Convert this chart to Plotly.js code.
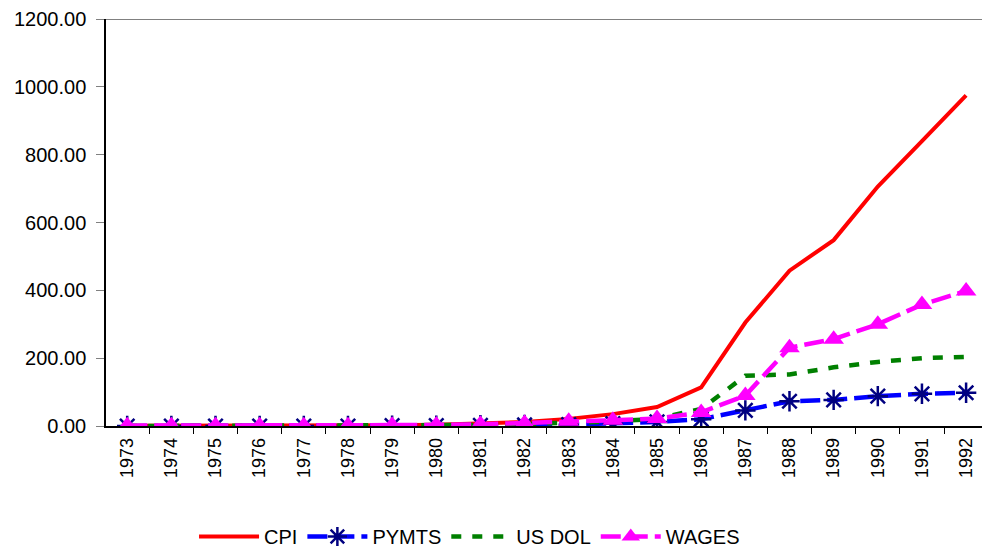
<!DOCTYPE html>
<html><head><meta charset="utf-8">
<script src="https://cdn.plot.ly/plotly-3.0.1.min.js"></script>
<style>html,body{margin:0;padding:0;background:#fff;overflow:hidden}</style>
</head><body><div id="chart" style="width:982px;height:556px"></div>
<script>
var years = ["1973","1974","1975","1976","1977","1978","1979","1980","1981","1982","1983","1984","1985","1986","1987","1988","1989","1990","1991","1992"];
var cpi   = [1,1,1,1,1,2,2,4,7,12,21,35,56,114,305,458,548,706,840,975];
var pymts = [0,0,0,0,0,0,1,1,2,3,4,7,12,20,46,73,77,88,95,98];
var usdol = [0,0,0,0,0,0,1,2,3,6,9,13,22,50,148,152,173,189,200,204];
var wages = [1,1,1,1,1,1,2,3,5,8,14,17,22,40,90,231,256,300,358,398];

var traces = [
  {x: years, y: cpi, name: "CPI", type: "scatter", mode: "lines",
   line: {color: "#FF0000", width: 4}},
  {x: years, y: pymts, name: "PYMTS", type: "scatter", mode: "lines+markers",
   line: {color: "#0000FF", width: 4.5, dash: "20px,7px"},
   marker: {symbol: "asterisk-open", size: 17, color: "#000080", line: {color: "#000080", width: 2.5}}},
  {x: years, y: usdol, name: "US DOL", type: "scatter", mode: "lines",
   line: {color: "#008000", width: 4.5, dash: "10px,11px"}},
  {x: years, y: wages, name: "WAGES", type: "scatter", mode: "lines+markers",
   line: {color: "#FF00FF", width: 4.5, dash: "20px,7px"},
   marker: {symbol: "triangle-up", size: 18, color: "#FF00FF"}}
];

var layout = {
  width: 982, height: 556,
  margin: {l: 106, r: 0, t: 19, b: 127},
  paper_bgcolor: "#fff", plot_bgcolor: "#fff",
  font: {family: "Liberation Sans, Arial, sans-serif", color: "#000"},
  showlegend: true,
  legend: {orientation: "h", x: 0.415, xanchor: "center", y: -0.272, yanchor: "middle",
           font: {size: 20}, itemwidth: 60, tracegroupgap: 0},
  xaxis: {type: "category", range: [-0.48, 19.36], tickangle: -90,
          tickfont: {size: 18}, showgrid: false, zeroline: false,
          showline: true, linecolor: "#000", linewidth: 1.5, ticklabelstandoff: 3,
          ticks: "outside", tickson: "boundaries", ticklen: 6, tickcolor: "#000"},
  yaxis: {range: [0, 1200], dtick: 200, tickformat: ".2f", tickfont: {size: 20},
          showgrid: false, zeroline: false, showline: true, linecolor: "#000", linewidth: 1.5,
          ticklabelstandoff: 6,
          ticks: "outside", ticklen: 8, tickcolor: "#808080"},
  shapes: [{type: "line", xref: "paper", yref: "y", x0: 0, x1: 1, y0: 1200, y1: 1200,
            line: {color: "#808080", width: 2}}]
};
Plotly.newPlot("chart", traces, layout, {displayModeBar: false});
</script></body></html>
